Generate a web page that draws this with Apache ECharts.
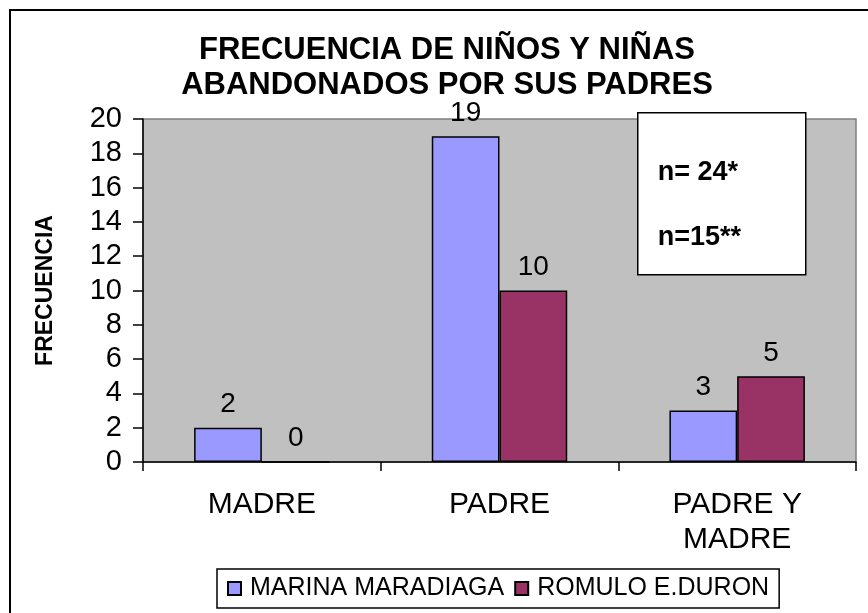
<!DOCTYPE html>
<html>
<head>
<meta charset="utf-8">
<script src="https://cdn.jsdelivr.net/npm/echarts@6/dist/echarts.min.js"></script>
<style>
  html, body { margin: 0; padding: 0; background: #fff; }
  #main { width: 868px; height: 613px; }
</style>
</head>
<body>
<div id="main"></div>
<script>
var categories = ['MADRE', 'PADRE', 'PADRE Y\nMADRE'];
var marina = [2, 19, 3];
var romulo = [0, 10, 5];
var yTicks = [0, 2, 4, 6, 8, 10, 12, 14, 16, 18, 20];

var FONT = 'Arial, "Liberation Sans", sans-serif';

var chart = echarts.init(document.getElementById('main'), null, { renderer: 'canvas' });

var labelStyle = {
  show: true,
  position: 'top',
  distance: 9,
  color: '#000',
  fontFamily: FONT,
  fontSize: 28
};

chart.setOption({
  animation: false,
  backgroundColor: '#fff',
  title: {
    text: 'FRECUENCIA DE NIÑOS Y NIÑAS\nABANDONADOS POR SUS PADRES',
    left: 447,
    top: 33,
    padding: 0,
    textAlign: 'center',
    textStyle: {
      fontFamily: FONT,
      fontWeight: 'bold',
      fontSize: 31,
      lineHeight: 35,
      color: '#000'
    }
  },
  legend: {
    data: ['MARINA MARADIAGA', 'ROMULO E.DURON'],
    left: 217,
    top: 569,
    padding: [7, 10, 7, 10],
    borderColor: '#000',
    borderWidth: 1.5,
    backgroundColor: '#fff',
    itemWidth: 13,
    itemHeight: 13,
    itemGap: 10,
    icon: 'rect',
    textStyle: { fontFamily: FONT, fontSize: 25, color: '#000', padding: [0, 0, 0, 4] }
  },
  grid: {
    left: 143,
    right: 12,
    top: 119,
    bottom: 151,
    show: true,
    backgroundColor: '#C0C0C0',
    borderColor: '#808080',
    borderWidth: 1.5
  },
  xAxis: {
    type: 'category',
    data: categories,
    axisLine: { lineStyle: { color: '#000', width: 1.5 } },
    axisTick: { show: true, interval: 0, length: 9, lineStyle: { color: '#000', width: 1.5 } },
    axisLabel: {
      interval: 0,
      margin: 25,
      color: '#000',
      fontFamily: FONT,
      fontSize: 30,
      lineHeight: 35
    }
  },
  yAxis: {
    type: 'value',
    min: yTicks[0],
    max: yTicks[yTicks.length - 1],
    interval: 2,
    name: 'FRECUENCIA',
    nameLocation: 'middle',
    nameRotate: 90,
    nameGap: 86,
    nameTextStyle: { fontFamily: FONT, fontWeight: 'bold', fontSize: 23, color: '#000' },
    axisLine: { show: true, lineStyle: { color: '#000', width: 1.5 } },
    axisTick: { show: true, length: 10, lineStyle: { color: '#000', width: 1.5 } },
    splitLine: { show: false },
    axisLabel: {
      margin: 21,
      color: '#000',
      fontFamily: FONT,
      fontSize: 29
    }
  },
  series: [
    {
      name: 'MARINA MARADIAGA',
      type: 'bar',
      data: marina,
      barGap: '0%',
      barCategoryGap: '43%',
      itemStyle: { color: '#9999FF', borderColor: '#000', borderWidth: 1.5 },
      label: labelStyle
    },
    {
      name: 'ROMULO E.DURON',
      type: 'bar',
      data: romulo,
      itemStyle: { color: '#993366', borderColor: '#000', borderWidth: 1.5 },
      label: labelStyle
    }
  ],
  graphic: [
    {
      type: 'rect',
      shape: { x: 10, y: 10, width: 900, height: 700 },
      style: { fill: 'none', stroke: '#000', lineWidth: 2 },
      silent: true,
      z: 100
    },
    {
      type: 'group',
      left: 637,
      top: 112,
      z: 100,
      children: [
        {
          type: 'rect',
          shape: { x: 0, y: 0, width: 168, height: 162 },
          style: { fill: '#fff', stroke: '#000', lineWidth: 1.5 }
        },
        {
          type: 'text',
          x: 20,
          y: 60,
          style: {
            text: 'n= 24*',
            fill: '#000',
            font: 'bold 27px ' + FONT,
            textVerticalAlign: 'middle'
          }
        },
        {
          type: 'text',
          x: 20,
          y: 125,
          style: {
            text: 'n=15**',
            fill: '#000',
            font: 'bold 27px ' + FONT,
            textVerticalAlign: 'middle'
          }
        }
      ]
    }
  ]
});
</script>
</body>
</html>
